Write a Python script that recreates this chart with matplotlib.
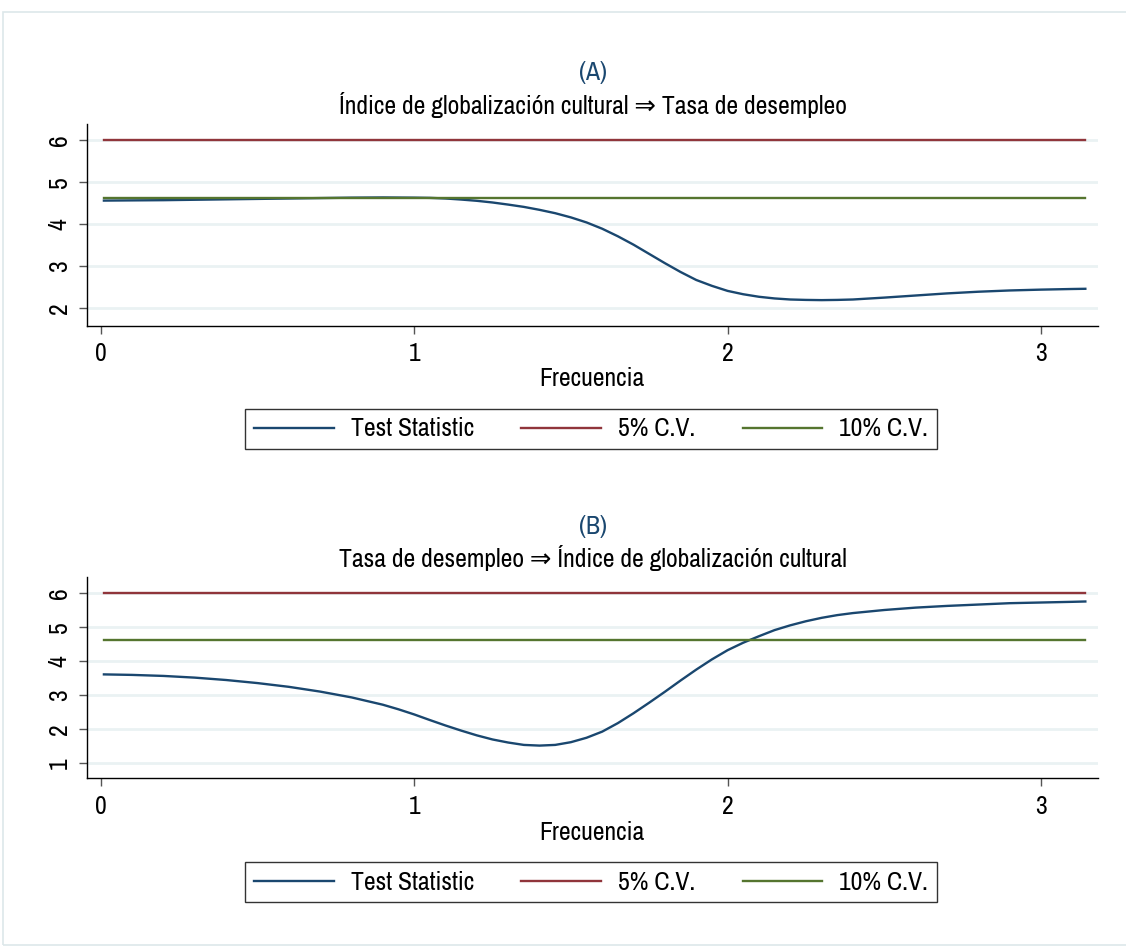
import matplotlib
matplotlib.use("Agg")
import matplotlib.pyplot as plt
from matplotlib.patches import Rectangle
from matplotlib.lines import Line2D

# figure size in pixels
W, H = 1126, 949

plt.rcParams['font.family'] = ['Liberation Sans Narrow', 'Arial Narrow',
                               'Archivo Narrow', 'Roboto Condensed',
                               'PT Sans Narrow', 'Liberation Sans', 'DejaVu Sans']
plt.rcParams['font.size'] = 18.5

# frequency (0 .. pi) and test statistic, panel A
freq_a = [0.01, 0.1, 0.2, 0.3, 0.4, 0.5, 0.6, 0.7, 0.8, 0.9, 1.0, 1.05, 1.1,
          1.15, 1.2, 1.25, 1.3, 1.35, 1.4, 1.45, 1.5, 1.55, 1.6, 1.65, 1.7,
          1.75, 1.8, 1.85, 1.9, 1.95, 2.0, 2.05, 2.1, 2.15, 2.2, 2.25, 2.3,
          2.35, 2.4, 2.5, 2.6, 2.7, 2.8, 2.9, 3.0, 3.1, 3.1416]
stat_a = [4.55, 4.555, 4.56, 4.57, 4.58, 4.59, 4.60, 4.61, 4.62, 4.625, 4.62,
          4.615, 4.60, 4.575, 4.545, 4.505, 4.455, 4.40, 4.33, 4.25, 4.15,
          4.03, 3.88, 3.70, 3.50, 3.28, 3.06, 2.85, 2.66, 2.52, 2.40, 2.32,
          2.26, 2.22, 2.195, 2.185, 2.18, 2.185, 2.195, 2.24, 2.29, 2.34,
          2.38, 2.41, 2.43, 2.445, 2.45]

# panel B
freq_b = [0.01, 0.1, 0.2, 0.3, 0.4, 0.5, 0.6, 0.7, 0.8, 0.9, 0.95, 1.0, 1.05,
          1.1, 1.15, 1.2, 1.25, 1.3, 1.35, 1.4, 1.45, 1.5, 1.55, 1.6, 1.65,
          1.7, 1.75, 1.8, 1.85, 1.9, 1.95, 2.0, 2.05, 2.1, 2.15, 2.2, 2.25,
          2.3, 2.35, 2.4, 2.5, 2.6, 2.7, 2.8, 2.9, 3.0, 3.1, 3.1416]
stat_b = [3.60, 3.585, 3.555, 3.505, 3.435, 3.345, 3.235, 3.095, 2.925, 2.71,
          2.575, 2.425, 2.26, 2.10, 1.95, 1.81, 1.69, 1.60, 1.53, 1.51, 1.53,
          1.61, 1.74, 1.92, 2.17, 2.46, 2.77, 3.09, 3.42, 3.74, 4.04, 4.31,
          4.53, 4.72, 4.90, 5.04, 5.16, 5.26, 5.34, 5.40, 5.49, 5.56, 5.61,
          5.65, 5.69, 5.71, 5.73, 5.74]

cv5 = 5.99
cv10 = 4.61

titles = ["(A)", "(B)"]
subtitles = ["Índice de globalización cultural \u21d2 Tasa de desempleo",
             "Tasa de desempleo \u21d2 Índice de globalización cultural"]
yticks_a = [2, 3, 4, 5, 6]
yticks_b = [1, 2, 3, 4, 5, 6]
legend_labels = ["Test Statistic", "5% C.V.", "10% C.V."]

navy = "#1a476f"
maroon = "#90353b"
green = "#55752f"
grid_col = "#eaf2f3"

fig = plt.figure(figsize=(W / 100, H / 100), dpi=100)
fig.patches.append(Rectangle((3 / W, 1 - 945 / H), 1.0, (945 - 12) / H,
                             transform=fig.transFigure, fill=False,
                             edgecolor="#dde7ea", lw=1.2))

# pixel boxes of the two plot areas: left, top, right, bottom
boxes = [(87.3, 124, 1098, 325.7), (87.3, 577.3, 1098, 778.3)]
ylims = [(1.571, 6.374), (0.55, 6.45)]
offsets = [0, 453]
series = [(freq_a, stat_a, yticks_a), (freq_b, stat_b, yticks_b)]

for i in range(2):
    l, t, r, b = boxes[i]
    dy = offsets[i]
    fr, st, yt = series[i]
    ax = fig.add_axes([l / W, 1 - b / H, (r - l) / W, (b - t) / H])
    for y in yt:
        ax.axhline(y, color=grid_col, lw=2, zorder=0)
    # drawn in Stata order: statistic first, critical values on top
    ax.plot(fr, st, color=navy, lw=1.7, zorder=2)
    ax.plot([fr[0], fr[-1]], [cv5, cv5], color=maroon, lw=1.7, zorder=3)
    ax.plot([fr[0], fr[-1]], [cv10, cv10], color=green, lw=1.7, zorder=4)
    ax.set_xlim(-0.043, 3.182)
    ax.set_ylim(*ylims[i])
    ax.set_xticks([0, 1, 2, 3])
    ax.set_yticks(yt)
    for lab in ax.get_yticklabels():
        lab.set_rotation(90)
        lab.set_va("center")
    ax.spines['top'].set_visible(False)
    ax.spines['right'].set_visible(False)
    ax.spines['left'].set_linewidth(1.0)
    ax.spines['bottom'].set_linewidth(1.0)
    ax.tick_params(length=6, width=1, color="#555555", pad=6, labelsize=18.5)

    fig.text(593 / W, 1 - (73 + dy) / H, titles[i], ha="center", va="center",
             color=navy, fontsize=18.5)
    fig.text(593 / W, 1 - (105 + dy) / H, subtitles[i], ha="center",
             va="center", color="black", fontsize=18.5)
    fig.text(592 / W, 1 - (379 + dy) / H, "Frecuencia", ha="center",
             va="center", fontsize=18.5)

    handles = [Line2D([], [], color=navy, lw=1.7),
               Line2D([], [], color=maroon, lw=1.7),
               Line2D([], [], color=green, lw=1.7)]
    leg = fig.legend(handles, legend_labels, ncol=3, loc="center",
                     bbox_to_anchor=(591 / W, 1 - (429 + dy) / H),
                     frameon=True, fancybox=False, edgecolor="black",
                     handlelength=3.1, handletextpad=0.65, columnspacing=1.85,
                     borderpad=0.35, fontsize=18.5)
    leg.get_frame().set_linewidth(1.0)

fig.savefig("out.png", dpi=100, facecolor="white")
